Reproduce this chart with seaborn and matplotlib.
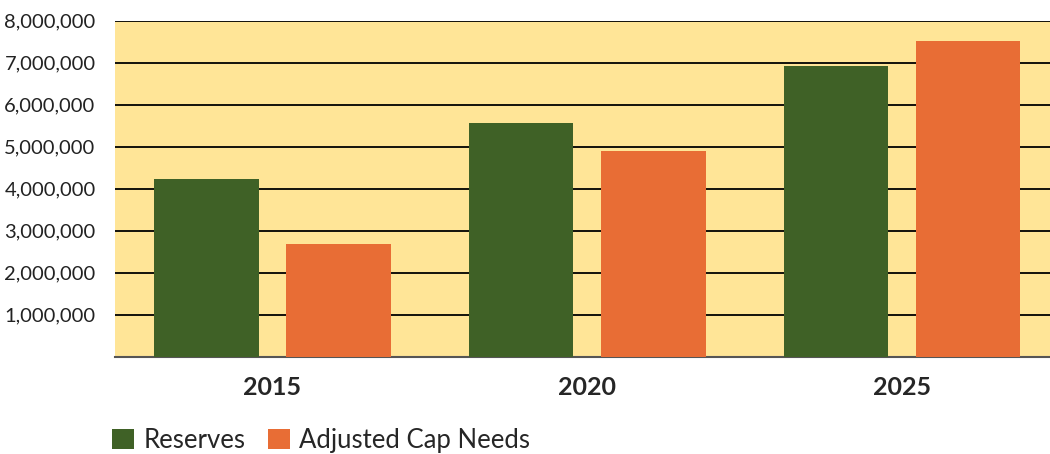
import pandas as pd
import matplotlib.pyplot as plt
import matplotlib.ticker as mticker
import seaborn as sns

# Data
years = ["2015", "2020", "2025"]
reserves = [4230000, 5560000, 6920000]
adjusted_cap_needs = [2680000, 4900000, 7520000]
series_names = ["Reserves", "Adjusted Cap Needs"]

df = pd.DataFrame({
    "year": years * 2,
    "series": [series_names[0]] * 3 + [series_names[1]] * 3,
    "value": reserves + adjusted_cap_needs,
})

GREEN = "#3F6126"
ORANGE = "#E86D35"
BG = "#FFE597"

sns.set_style("white")
plt.rcParams["font.family"] = ["Lato", "DejaVu Sans"]

fig = plt.figure(figsize=(10.5, 4.54), dpi=100)
ax = fig.add_axes([0.1095, 0.2143, 0.8905, 0.7401])
ax.set_facecolor(BG)

sns.barplot(data=df, x="year", y="value", hue="series", palette=[GREEN, ORANGE],
            width=0.84, gap=0.21, saturation=1, linewidth=0, ax=ax, zorder=3)

ax.set_ylim(0, 8000000)
ax.set_xlim(-0.5, 2.47)
ax.set_yticks(range(1000000, 8000001, 1000000))
ax.yaxis.set_major_formatter(mticker.FuncFormatter(lambda v, p: f"{int(v):,}"))
ax.grid(axis="y", color="black", linewidth=1.3, zorder=1)
ax.set_axisbelow(True)
for s in ["left", "right", "top"]:
    ax.spines[s].set_visible(False)
ax.spines["bottom"].set_color("#555555")
ax.spines["bottom"].set_linewidth(1.5)
ax.tick_params(axis="y", labelsize=14.5, length=0, pad=14, colors="#222222")
ax.tick_params(axis="x", labelsize=18, length=0, pad=14)
for t in ax.get_xticklabels():
    t.set_fontweight("bold")
ax.set_xlabel("")
ax.set_ylabel("")

handles, labels = ax.get_legend_handles_labels()
ax.get_legend().remove()
fig.legend(handles, labels, loc="lower left", bbox_to_anchor=(0.085, -0.048), ncol=2,
           frameon=False, fontsize=18.5, handlelength=0.85, handleheight=0.85,
           handletextpad=0.35, columnspacing=0.9)

fig.savefig("out.png", dpi=100)
